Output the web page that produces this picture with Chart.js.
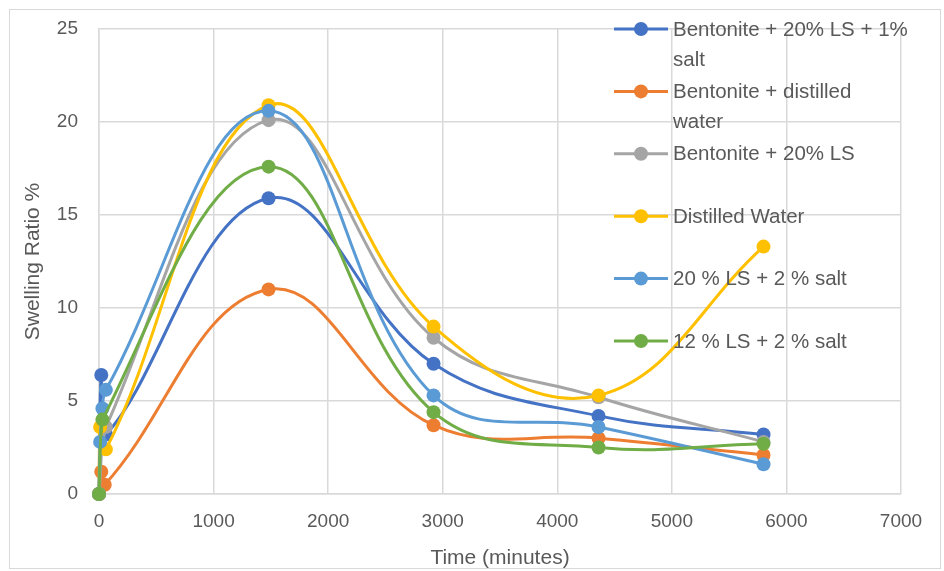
<!DOCTYPE html>
<html>
<head>
<meta charset="utf-8">
<script src="https://cdn.jsdelivr.net/npm/chart.js@4.4.1/dist/chart.umd.min.js"></script>
<style>
    html, body { margin: 0; padding: 0; background: #fff; }
    #wrap { width: 944px; height: 571px; }
</style>
</head>
<body>
<div id="wrap"><canvas id="swellingChart" width="944" height="571"></canvas></div>
<script>
// series labels (legend wraps where Excel wrapped them)
const seriesNames = [
    ['Bentonite + 20% LS + 1%', 'salt'],
    ['Bentonite + distilled', 'water'],
    ['Bentonite + 20% LS'],
    ['Distilled Water'],
    ['20 % LS + 2 % salt'],
    ['12 % LS + 2 % salt']
];
const seriesColors = ['#4472C4', '#ED7D31', '#A5A5A5', '#FFC000', '#5B9BD5', '#70AD47'];

// time in minutes, swelling ratio in %
const bentLsSaltTime = [0, 20, 60, 1480, 2920, 4360, 5800];
const bentLsSaltValue = [0, 6.4, 3.2, 15.9, 7.0, 4.2, 3.2];

const bentWaterTime = [0, 20, 50, 1480, 2920, 4360, 5800];
const bentWaterValue = [0, 1.2, 0.5, 11.0, 3.7, 3.0, 2.1];

const bentLsTime = [0, 60, 1480, 2920, 4360, 5800];
const bentLsValue = [0, 3.6, 20.1, 8.4, 5.2, 2.8];

const waterTime = [0, 10, 60, 1480, 2920, 4360, 5800];
const waterValue = [0, 3.6, 2.4, 20.9, 9.0, 5.3, 13.3];

const ls20SaltTime = [0, 10, 30, 60, 1480, 2920, 4360, 5800];
const ls20SaltValue = [0, 2.8, 4.6, 5.6, 20.6, 5.3, 3.6, 1.6];

const ls12SaltTime = [0, 30, 1480, 2920, 4360, 5800];
const ls12SaltValue = [0, 4.0, 17.6, 4.4, 2.5, 2.7];

const xTicksMax = 7000;
const yTicksMax = 25;

const seriesTimes = [bentLsSaltTime, bentWaterTime, bentLsTime, waterTime, ls20SaltTime, ls12SaltTime];
const seriesValues = [bentLsSaltValue, bentWaterValue, bentLsValue, waterValue, ls20SaltValue, ls12SaltValue];

const textColor = '#595959';
const fontFamily = "'Liberation Sans', Arial, sans-serif";

function toPoints(times, values) {
    return times.map((t, i) => ({ x: t, y: values[i] }));
}

const datasets = seriesNames.map((name, i) => ({
    label: name.join(' '),
    data: toPoints(seriesTimes[i], seriesValues[i]),
    showLine: true,
    clip: false,
    borderColor: seriesColors[i],
    backgroundColor: seriesColors[i],
    borderWidth: 3,
    pointRadius: 7,
    pointHoverRadius: 7,
    pointBorderWidth: 0,
    tension: 0.4,
    order: seriesNames.length - i
}));

// outer frame like the Excel chart area
const framePlugin = {
    id: 'frame',
    beforeDraw(chart) {
        const ctx = chart.ctx;
        ctx.save();
        ctx.fillStyle = '#fff';
        ctx.fillRect(0, 0, chart.width, chart.height);
        ctx.strokeStyle = '#d9d9d9';
        ctx.lineWidth = 1;
        ctx.strokeRect(9.5, 9.5, chart.width - 13, chart.height - 12);
        ctx.restore();
    }
};

// legend sits on top of the plot area, as in the original
const overlayLegend = {
    id: 'overlayLegend',
    afterDraw(chart) {
        const ctx = chart.ctx;
        const left = 614;
        const top = 29;
        const rowGap = 62.4;
        ctx.save();
        ctx.font = '20.5px ' + fontFamily;
        ctx.textBaseline = 'middle';
        ctx.textAlign = 'left';
        seriesNames.forEach((lines, i) => {
            const y = top + i * rowGap;
            ctx.strokeStyle = seriesColors[i];
            ctx.lineWidth = 3;
            ctx.beginPath();
            ctx.moveTo(left, y);
            ctx.lineTo(left + 54, y);
            ctx.stroke();
            ctx.fillStyle = seriesColors[i];
            ctx.beginPath();
            ctx.arc(left + 27, y, 7, 0, Math.PI * 2);
            ctx.fill();
            ctx.fillStyle = textColor;
            lines.forEach((line, j) => {
                ctx.fillText(line, left + 59, y + 1 + j * 30);
            });
        });
        ctx.restore();
    }
};

new Chart(document.getElementById('swellingChart').getContext('2d'), {
    type: 'scatter',
    data: { datasets: datasets },
    options: {
        responsive: false,
        animation: false,
        layout: {
            padding: { left: 9, right: 43, top: 29, bottom: 0 }
        },
        plugins: {
            legend: { display: false },
            tooltip: { enabled: false }
        },
        scales: {
            x: {
                type: 'linear',
                min: 0,
                max: xTicksMax,
                ticks: {
                    stepSize: 1000,
                    color: textColor,
                    font: { family: fontFamily, size: 19 },
                    padding: 16,
                    callback: v => String(v)
                },
                grid: { color: '#d9d9d9', lineWidth: 1.5, drawTicks: false },
                border: { color: '#d9d9d9', width: 1.5 },
                title: {
                    display: true,
                    text: 'Time (minutes)',
                    color: textColor,
                    font: { family: fontFamily, size: 21 },
                    padding: { top: 4, bottom: 0 }
                },
                afterFit(scale) { scale.height = 77; }
            },
            y: {
                type: 'linear',
                min: 0,
                max: yTicksMax,
                ticks: {
                    stepSize: 5,
                    color: textColor,
                    font: { family: fontFamily, size: 19 },
                    padding: 21,
                    callback: v => String(v)
                },
                grid: { color: '#d9d9d9', lineWidth: 1.5, drawTicks: false },
                border: { color: '#d9d9d9', width: 1.5 },
                title: {
                    display: true,
                    text: 'Swelling Ratio %',
                    color: textColor,
                    font: { family: fontFamily, size: 21 },
                    padding: { top: 12, bottom: 8 }
                },
                afterFit(scale) {
                    scale.width = 90;
                    scale.paddingTop = 0;
                    scale.paddingBottom = 0;
                }
            }
        }
    },
    plugins: [framePlugin, overlayLegend]
});
</script>
</body>
</html>
